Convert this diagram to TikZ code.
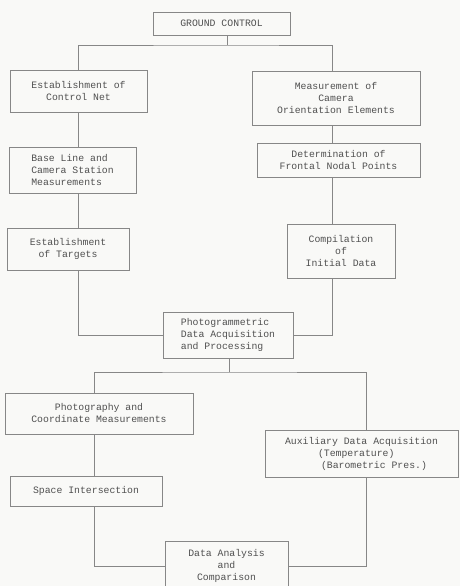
\documentclass[tikz,border=0pt]{standalone}
\usepackage{fontspec}
\setmonofont{Liberation Mono}
\definecolor{inkgray}{RGB}{80,80,80}
\definecolor{rulegray}{RGB}{135,135,135}
\definecolor{paper}{RGB}{249,249,247}
\begin{document}
\begin{tikzpicture}[x=1pt, y=-1pt,
    box/.style={draw=rulegray, line width=.5pt, text=inkgray, inner sep=0pt,
        font=\ttfamily\fontsize{9.8}{12}\selectfont, align=center},
    link/.style={draw=rulegray, line width=.5pt}]
\fill[paper] (0,0) rectangle (460,586);
\clip (0,0) rectangle (460,586);

% ground control and its two columns
\node[box, minimum width=137pt, minimum height=23pt] (gc) at (221.5,23.5) {GROUND CONTROL};
\node[box, minimum width=137pt, minimum height=42pt] (ecn) at (78.5,91) {Establishment of\\Control Net};
\node[box, minimum width=127pt, minimum height=46pt, align=left] (bl) at (72.5,170) {Base Line and\\Camera Station\\Measurements};
\node[box, minimum width=122pt, minimum height=42pt] (tg) at (68,249) {Establishment\\of Targets};
\node[box, minimum width=168pt, minimum height=54pt] (mce) at (336,98) {Measurement of\\Camera\\Orientation Elements};
\node[box, minimum width=163pt, minimum height=34pt] (dfn) at (338.5,160) {Determination of\\Frontal Nodal Points};
\node[box, minimum width=108pt, minimum height=54pt] (cid) at (341,251) {Compilation\\of\\Initial Data};
\node[box, minimum width=130pt, minimum height=46pt, align=left] (pda) at (228,335) {Photogrammetric\\Data Acquisition\\and Processing};

% acquisition and analysis
\node[box, minimum width=188pt, minimum height=41pt] (pcm) at (99,413.5) {Photography and\\Coordinate Measurements};
\node[box, minimum width=152pt, minimum height=30pt] (si) at (86,491) {Space Intersection};
\node[box, minimum width=193pt, minimum height=47pt, align=left] (adq) at (361.5,453.5) {Auxiliary Data Acquisition\\\hspace*{33pt}(Temperature)\\\hspace*{36pt}(Barometric Pres.)};
\node[box, minimum width=123pt, minimum height=50pt] (dac) at (226.5,566) {Data Analysis\\and\\Comparison};

\coordinate (mid) at (227,45);
\coordinate (lcol) at (78,0);
\coordinate (rcol) at (332,0);
\coordinate (mid2) at (229,372);
\coordinate (lcol2) at (94,0);
\coordinate (rcol2) at (366,0);

\draw[link] (gc.south -| mid) -- (mid);
\draw[link] (ecn.north -| lcol) |- (mid) -| (mce.north -| rcol);
\draw[link] (ecn.south -| lcol) -- (bl.north -| lcol);
\draw[link] (bl.south -| lcol) -- (tg.north -| lcol);
\draw[link] (tg.south -| lcol) |- (pda.west);
\draw[link] (mce.south -| rcol) -- (dfn.north -| rcol);
\draw[link] (dfn.south -| rcol) -- (cid.north -| rcol);
\draw[link] (cid.south -| rcol) |- (pda.east);

\draw[link] (pda.south -| mid2) -- (mid2);
\draw[link] (pcm.north -| lcol2) |- (mid2) -| (adq.north -| rcol2);
\draw[link] (pcm.south -| lcol2) -- (si.north -| lcol2);
\draw[link] (si.south -| lcol2) |- (dac.west);
\draw[link] (adq.south -| rcol2) |- (dac.east);

\end{tikzpicture}
\end{document}
